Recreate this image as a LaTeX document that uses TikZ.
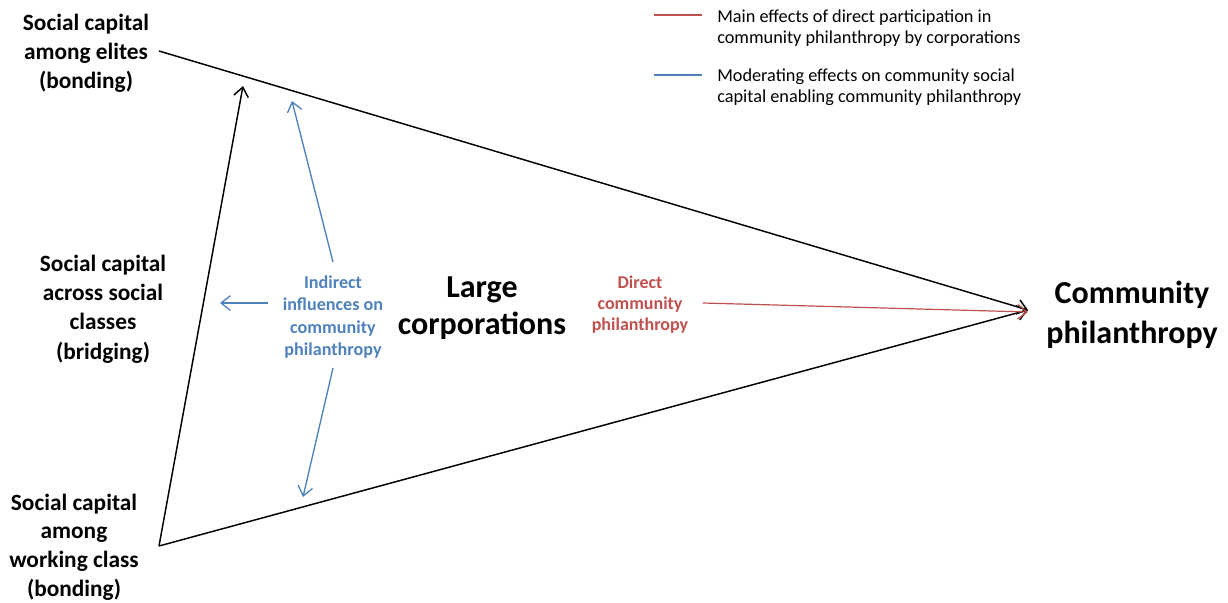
\documentclass[tikz,border=0pt]{standalone}
\usepackage{fontspec}
\setmainfont{Carlito}
\usetikzlibrary{arrows.meta}
\definecolor{cblue}{RGB}{79,129,189}
\definecolor{cred}{RGB}{192,80,77}
\begin{document}
\begin{tikzpicture}[x=0.75pt,y=-0.75pt,
  lbl/.style={align=center,font=\fontsize{17.5}{21.9}\selectfont\bfseries,inner sep=0pt},
  lblw/.style={align=center,font=\fontsize{17.5}{21.4}\selectfont\bfseries,inner sep=0pt},
  big/.style={align=center,font=\fontsize{24}{28}\selectfont\bfseries,inner sep=0pt},
  bigc/.style={align=center,font=\fontsize{24}{30}\selectfont\bfseries,inner sep=0pt},
  bluetxt/.style={align=center,text=cblue,font=\fontsize{13.6}{16.7}\selectfont\bfseries,inner sep=0pt},
  redtxt/.style={align=center,text=cred,font=\fontsize{13.5}{15.8}\selectfont\bfseries,inner sep=0pt},
  legtxt/.style={align=left,anchor=west,font=\fontsize{13.7}{15.8}\selectfont,inner sep=0pt},
  arr/.style={-{Straight Barb[length=7pt,width=11pt]},line width=1.1pt},
  blk/.style={arr,black},
  bl/.style={arr,cblue,line width=1pt},
  rd/.style={arr,cred,line width=0.9pt}]
\useasboundingbox (0,0) rectangle (1228,603);
% labels
\node[lbl] (elites) at (86,53) {Social capital\\among elites\\(bonding)};
\node[lbl] (bridging) at (103,309) {Social capital\\across social\\classes\\(bridging)};
\node[lblw] (working) at (74,547) {Social capital\\among\\working class\\(bonding)};
\node[bluetxt] (indirect) at (333,317) {Indirect\\influences on\\community\\philanthropy};
\node[big] (corp) at (482,308) {Large\\corporations};
\node[redtxt] (direct) at (640,305) {Direct\\community\\philanthropy};
\node[bigc] (comm) at (1132,315) {Community\\philanthropy};
% coordinates
\coordinate (tl) at (159,51);
\coordinate (bl) at (159,546);
\coordinate (tip) at (1028,310);
\coordinate (tipL) at (243,86);
\coordinate (redS) at (703,303);
\coordinate (redE) at (1028,312);
\coordinate (bUpS) at (333,262);
\coordinate (bUpE) at (292,101);
\coordinate (bDnS) at (333,368);
\coordinate (bDnE) at (303,497);
\coordinate (bLS) at (268,303);
\coordinate (bLE) at (220,303);
% connectors
\draw[blk] (tl) -- (tip);
\draw[blk] (bl) -- (tip);
\draw[blk] (bl) -- (tipL);
\draw[rd] (redS) -- (redE);
\draw[bl] (bUpS) -- (bUpE);
\draw[bl] (bDnS) -- (bDnE);
\draw[bl] (bLS) -- (bLE);
% legend
\coordinate (lr1) at (654,15);
\coordinate (lr2) at (702,15);
\coordinate (lb1) at (654,75);
\coordinate (lb2) at (702,75);
\draw[cred,line width=0.9pt] (lr1) -- (lr2);
\draw[cblue,line width=0.9pt] (lb1) -- (lb2);
\node[legtxt] (leg1) at (717,28) {Main effects of direct participation in\\community philanthropy by corporations};
\node[legtxt] (leg2) at (717,87) {Moderating effects on community social\\capital enabling community philanthropy};
\end{tikzpicture}
\end{document}
